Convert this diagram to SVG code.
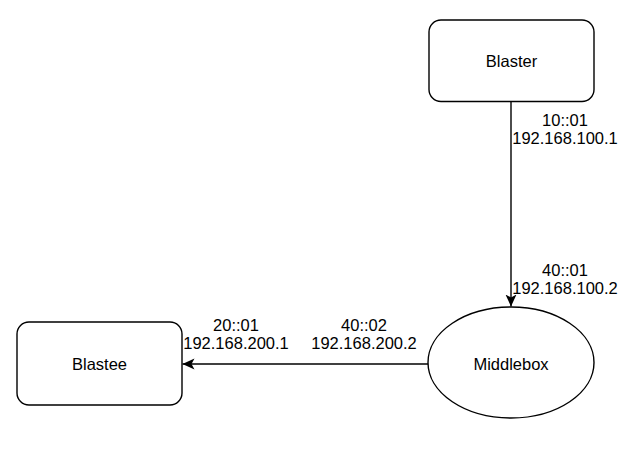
<svg xmlns="http://www.w3.org/2000/svg" width="639" height="454" viewBox="0 0 639 454">
<style>
.n{fill:#fff;stroke:#000;stroke-width:1.4}
.t{font-family:"Liberation Sans",Arial,sans-serif;font-size:16.5px;fill:#000;text-anchor:middle}
.e{fill:none;stroke:#000;stroke-width:1.4}
</style>
<defs>
<marker id="arr" viewBox="0 0 12 12" refX="12" refY="6" markerWidth="12" markerHeight="12" markerUnits="userSpaceOnUse" orient="auto">
<path d="M0,0.5 L12,6 L0,11.5 L3,6 Z" fill="#000"/>
</marker>
</defs>
<rect width="639" height="454" fill="#fff"/>
<g id="connectors">
<path class="e" d="M511,101.5 L511,306.5" marker-end="url(#arr)"/>
<path class="e" d="M428,364 L182.5,364" marker-end="url(#arr)"/>
<text class="t" x="565" y="126">10::01</text>
<text class="t" x="565" y="144">192.168.100.1</text>
<text class="t" x="565" y="276">40::01</text>
<text class="t" x="565" y="294">192.168.100.2</text>
<text class="t" x="236" y="331">20::01</text>
<text class="t" x="236" y="349">192.168.200.1</text>
<text class="t" x="364" y="331">40::02</text>
<text class="t" x="364" y="349">192.168.200.2</text>
</g>
<g id="blaster">
<rect class="n" x="429" y="20" width="165" height="81.5" rx="12"/>
<text class="t" x="511.5" y="67">Blaster</text>
</g>
<g id="blastee">
<rect class="n" x="17" y="322" width="165" height="83" rx="12"/>
<text class="t" x="99.5" y="370">Blastee</text>
</g>
<g id="middlebox">
<ellipse class="n" cx="511" cy="362.5" rx="83" ry="55.5"/>
<text class="t" x="511" y="370">Middlebox</text>
</g>
</svg>
